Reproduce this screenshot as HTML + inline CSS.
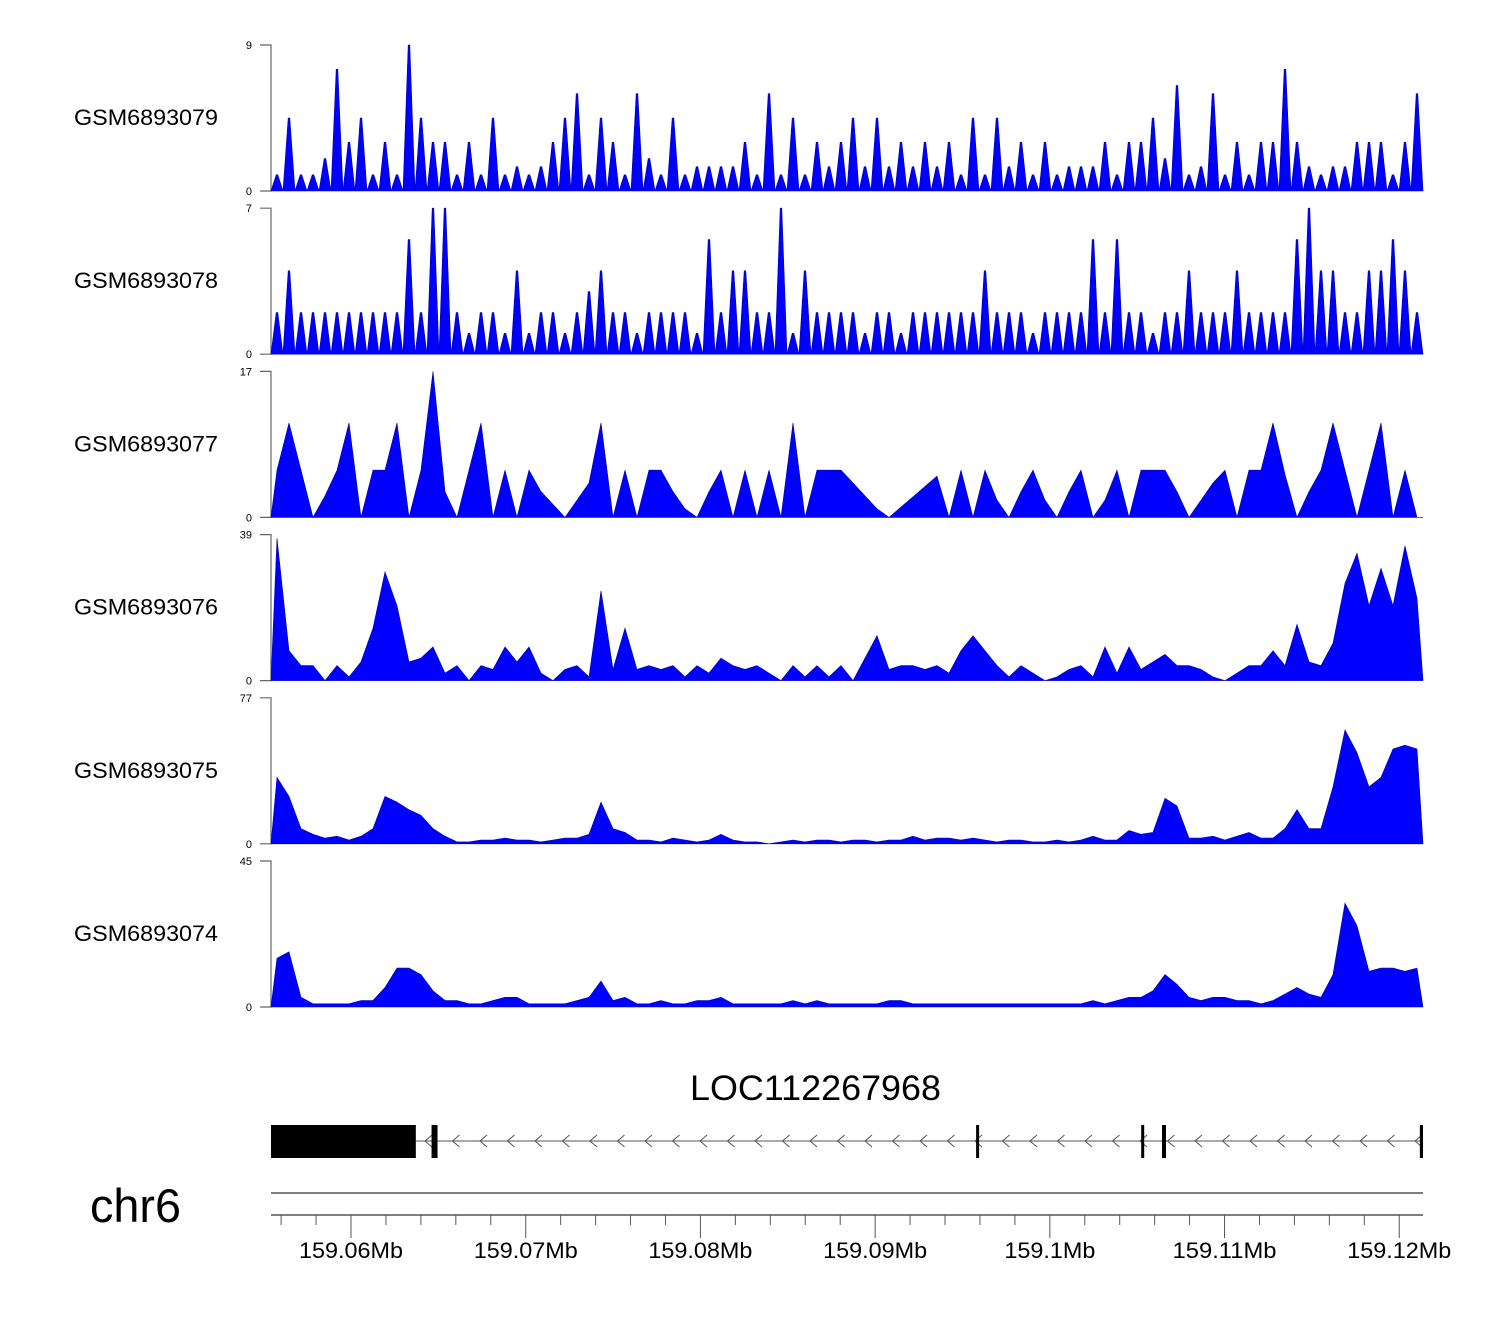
<!DOCTYPE html>
<html><head><meta charset="utf-8"><style>
html,body{margin:0;padding:0;background:#fff;}
svg{display:block;font-family:"Liberation Sans",Arial,sans-serif;}
</style></head><body>
<svg id="chart" width="1500" height="1320" viewBox="0 0 1500 1320" xmlns="http://www.w3.org/2000/svg">
<g id="tracks"></g>
<g id="gene">
<text x="690" y="1100" font-size="35" textLength="251" lengthAdjust="spacingAndGlyphs" fill="#000">LOC112267968</text>
</g>
<g id="axis">
<text x="90" y="1222" font-size="47" textLength="91" lengthAdjust="spacingAndGlyphs" fill="#000">chr6</text>
<line x1="271" y1="1193" x2="1423" y2="1193" stroke="#333" stroke-width="1.2"/>
<line x1="271" y1="1215" x2="1423" y2="1215" stroke="#333" stroke-width="1.2"/>
</g>
</svg>
<script>
// genomic window (Mb)
const regionStart = 159.05542;
const regionEnd = 159.12136;
const binCount = 96;
const trackNames = ["GSM6893079","GSM6893078","GSM6893077","GSM6893076","GSM6893075","GSM6893074"];
const trackMax = [9,7,17,39,77,45];
const trackMode = ["spike","spike","area","area","area","area"];
const vals79 = [1,4.5,1,1,2,7.5,3,4.5,1,3,1,9,4.5,3,3,1,3,1,4.5,1,1.5,1,1.5,3,4.5,6,1,4.5,3,1,6,2,1,4.5,1,1.5,1.5,1.5,1.5,3,1,6,1,4.5,1,3,1.5,3,4.5,1.5,4.5,1.5,3,1.5,3,1.5,3,1,4.5,1,4.5,1.5,3,1,3,1,1.5,1.5,1.5,3,1,3,3,4.5,2,6.5,1,1.5,6,1,3,1,3,3,7.5,3,1.5,1,1.5,1.5,3,3,3,1,3,6];
const vals78 = [2,4,2,2,2,2,2,2,2,2,2,5.5,2,7,7,2,1,2,2,1,4,1,2,2,1,2,3,4,2,2,1,2,2,2,2,1,5.5,2,4,4,2,2,7,1,4,2,2,2,2,1,2,2,1,2,2,2,2,2,2,4,2,2,2,1,2,2,2,2,5.5,2,5.5,2,2,1,2,2,4,2,2,2,4,2,2,2,2,5.5,7,4,4,2,2,4,4,5.5,4,2];
const vals77 = [5.5,11,5.5,0,2.5,5.5,11,0,5.5,5.5,11,0,5.5,17,3,0,5.5,11,0,5.5,0,5.5,3,1.5,0,2,4,11,0,5.5,0,5.5,5.5,3,1,0,3,5.5,0,5.5,0,5.5,0,11,0,5.5,5.5,5.5,4,2.5,1,0,1.2,2.4,3.6,4.8,0,5.5,0,5.5,2,0,3,5.5,2,0,3,5.5,0,2,5.5,0,5.5,5.5,5.5,3,0,2,4,5.5,0,5.5,5.5,11,5,0,3,5.5,11,5.5,0,5.5,11,0,5.5,0];
const vals76 = [38,8,4,4,0,4,1,5,14,29,20,5,6,9,2,4,0,4,3,9,5,9,2,0,3,4,1,24,3,14,3,4,3,4,1,4,2,6,4,3,4,2,0,4,1,4,1,4,0,6,12,3,4,4,3,4,2,8,12,8,4,1,4,2,0,1,3,4,1,9,2,9,3,5,7,4,4,3,1,0,2,4,4,8,4,15,5,4,10,26,34,20,30,20,36,22];
const vals75 = [35,25,8,5,3,4,2,4,8,25,22,18,15,8,4,1,1,2,2,3,2,2,1,2,3,3,5,22,8,6,2,2,1,3,2,1,2,5,2,1,1,0,1,2,1,2,2,1,2,2,1,2,2,4,2,3,3,2,3,2,1,2,2,1,1,2,1,2,4,2,2,7,5,6,24,20,3,3,4,2,4,6,3,3,8,18,8,8,30,60,48,30,35,50,52,50];
const vals74 = [15,17,3,1,1,1,1,2,2,6,12,12,10,5,2,2,1,1,2,3,3,1,1,1,1,2,3,8,2,3,1,1,2,1,1,2,2,3,1,1,1,1,1,2,1,2,1,1,1,1,1,2,2,1,1,1,1,1,1,1,1,1,1,1,1,1,1,1,2,1,2,3,3,5,10,7,3,2,3,3,2,2,1,2,4,6,4,3,10,32,25,11,12,12,11,12];
const trackValues = [vals79,vals78,vals77,vals76,vals75,vals74];
const axisTicks = [159.06,159.07,159.08,159.09,159.10,159.11,159.12];
const axisTickLabels = ["159.06Mb","159.07Mb","159.08Mb","159.09Mb","159.1Mb","159.11Mb","159.12Mb"];
const exonStarts = [159.05542,159.06461,159.06478,159.09578,159.10523,159.10642,159.12118];
const exonEnds =   [159.06371,159.06478,159.06495,159.09595,159.10534,159.10665,159.12136];

const NS="http://www.w3.org/2000/svg";
const X0=271, X1=1423;
function xScale(mb){return X0+(mb-regionStart)/(regionEnd-regionStart)*(X1-X0);}
function mk(tag,attrs,parent){const e=document.createElementNS(NS,tag);for(const k in attrs)e.setAttribute(k,attrs[k]);parent.appendChild(e);return e;}
const tracksG=document.getElementById('tracks');
const binMb=(regionEnd-regionStart)/binCount;
trackNames.forEach((name,t)=>{
  const top=45+t*163.2, base=top+146;
  const yScale=v=>base-v/trackMax[t]*(base-top);
  const g=mk('g',{},tracksG);
  
  
  const lab=mk('text',{x:74,y:top+80,'font-size':22,textLength:144,lengthAdjust:'spacingAndGlyphs',fill:'#000'},g);
  lab.textContent=name;
  
  
  const ax=mk('path',{d:`M260 ${top}H271V${base}H260`,fill:'none',stroke:'#666','stroke-width':1.2},g);
  
  
  const tmax=mk('text',{x:252,y:top+4,'font-size':11,'text-anchor':'end',fill:'#000'},g);
  tmax.textContent=trackMax[t];
  
  
  const t0=mk('text',{x:252,y:base+4,'font-size':11,'text-anchor':'end',fill:'#000'},g);
  t0.textContent='0';
  
  
  const vals=trackValues[t];
  let d='';
  if(trackMode[t]==='spike'){
    vals.forEach((v,i)=>{
      const xl=xScale(regionStart+i*binMb), xr=xScale(regionStart+(i+1)*binMb), xc=(xl+xr)/2;
      d+=`M${xl.toFixed(1)} ${base}L${(xc-0.8).toFixed(1)} ${yScale(v).toFixed(1)}L${(xc+0.8).toFixed(1)} ${yScale(v).toFixed(1)}L${xr.toFixed(1)} ${base}Z`;
    });
  } else {
    d=`M${X0} ${base}`;
    vals.forEach((v,i)=>{const x=xScale(regionStart+(i+0.5)*binMb);d+=`L${x.toFixed(1)} ${yScale(v).toFixed(1)}`;});
    d+=`L${X1} ${base}Z`;
  }
  const p=mk('path',{d:d,fill:'#0000ff',stroke:'#0000aa','stroke-width':0.6},g);
  
  
});
const geneG=document.getElementById('gene');
const intron=mk('line',{x1:415,y1:1141,x2:1423,y2:1141,stroke:'#777','stroke-width':1.2},geneG);


for(let x=425;x<1420;x+=27.5){
  const c=mk('path',{d:`M${x+7} 1135L${x} 1141L${x+7} 1147`,fill:'none',stroke:'#555','stroke-width':1},geneG);
  
  
}
exonStarts.forEach((s,i)=>{
  const xa=xScale(s), xb=Math.max(xScale(exonEnds[i]),xa+3);
  const r=mk('rect',{x:xa,y:1125,width:(xb-xa),height:33,fill:'#000'},geneG);
  
  
});
const axisG=document.getElementById('axis');
for(let mb=159.056;mb<regionEnd;mb+=0.002){
  const x=xScale(mb);
  const major=axisTicks.some(a=>Math.abs(a-mb)<1e-6);
  const tk=mk('line',{x1:x,y1:1215,x2:x,y2:major?1238:1225,stroke:'#555','stroke-width':1},axisG);
  
  
}
axisTicks.forEach((mb,i)=>{
  const w=axisTickLabels[i].length*13;
  const tl=mk('text',{x:xScale(mb),y:1258,'font-size':22,'text-anchor':'middle',textLength:w,lengthAdjust:'spacingAndGlyphs',fill:'#000'},axisG);
  tl.textContent=axisTickLabels[i];
  
  
});
</script>
</body></html>
